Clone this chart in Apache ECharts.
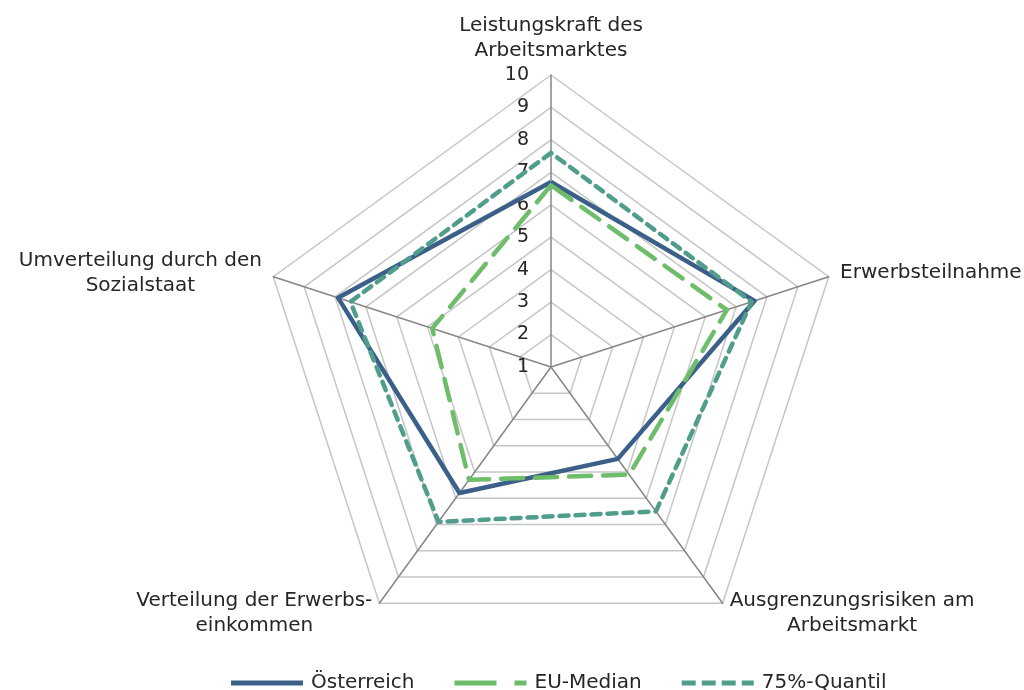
<!DOCTYPE html>
<html>
<head>
<meta charset="utf-8">
<script src="https://cdn.jsdelivr.net/npm/echarts@6/dist/echarts.min.js"></script>
<style>
html,body{margin:0;padding:0;background:#fff;}
#main{width:1024px;height:690px;}
</style>
</head>
<body>
<div id="main"></div>
<script>
// Indicators in ECharts' drawing order (top, then counterclockwise)
var categories = [
  'Leistungskraft des\nArbeitsmarktes',
  'Umverteilung durch den\nSozialstaat',
  'Verteilung der Erwerbs-\neinkommen',
  'Ausgrenzungsrisiken am\nArbeitsmarkt',
  'Erwerbsteilnahme'
];
var seriesNames = ['Österreich', 'EU-Median', '75%-Quantil'];
var oesterreich = [6.7, 7.9, 5.8, 4.5, 7.6];
var euMedian    = [6.6, 4.85, 5.3, 5.1, 6.7];
var quantil75   = [7.6, 7.5, 6.9, 6.5, 7.5];
var axisMin = 1, axisMax = 10;

var FONT = 'DejaVu Sans';
var TXT = '#262626';
var colors = ['#3a6089', '#6dbd6a', '#519d8c'];

var indicator = categories.map(function (c, i) {
  var o = { name: c, min: axisMin, max: axisMax };
  if (i === 0) o.axisLabel = { show: true };
  return o;
});

var chart = echarts.init(document.getElementById('main'));
chart.setOption({
  animation: false,
  backgroundColor: '#ffffff',
  textStyle: { fontFamily: FONT },
  legend: {
    top: 668,
    left: 226,
    itemWidth: 72,
    itemHeight: 5,
    itemGap: 40,
    textStyle: { fontFamily: FONT, fontSize: 20, color: TXT, padding: [0, 0, 0, 3] },
    data: [
      { name: seriesNames[0], icon: 'path://M0 0H72V5H0Z' },
      { name: seriesNames[1], icon: 'path://M0 0H42V5H0Z M60 0H72V5H60Z' },
      { name: seriesNames[2], icon: 'path://M0 0H14V5H0Z M20 0H34V5H20Z M40 0H54V5H40Z M60 0H72V5H60Z' }
    ]
  },
  radar: {
    center: [551, 367],
    radius: 292,
    splitNumber: 9,
    shape: 'polygon',
    nameGap: 12,
    indicator: indicator,
    axisName: {
      color: TXT,
      fontFamily: FONT,
      fontSize: 20,
      lineHeight: 25,
      formatter: function (v) {
        return v.split('\n').map(function (s) { return '{c|' + s + '}'; }).join('\n');
      },
      rich: { c: { align: 'center', fontFamily: FONT, fontSize: 20, color: TXT, lineHeight: 25 } }
    },
    axisLine: { lineStyle: { color: '#868686', width: 1.5 } },
    splitLine: { lineStyle: { color: '#c6c6c6', width: 1.5 } },
    splitArea: { show: false },
    axisTick: { show: false },
    axisLabel: { show: false, color: TXT, fontFamily: FONT, fontSize: 19, margin: 22, showMinLabel: true, showMaxLabel: true }
  },
  series: [{
    type: 'radar',
    symbol: 'none',
    data: [
      { name: seriesNames[0], value: oesterreich,
        lineStyle: { color: colors[0], width: 4.5, type: 'solid' }, itemStyle: { color: colors[0] } },
      { name: seriesNames[1], value: euMedian,
        lineStyle: { color: colors[1], width: 4.5, type: [22, 12], cap: 'round' }, itemStyle: { color: colors[1] } },
      { name: seriesNames[2], value: quantil75,
        lineStyle: { color: colors[2], width: 4.5, type: [9, 7], cap: 'round' }, itemStyle: { color: colors[2] } }
    ]
  }]
});
</script>
</body>
</html>
